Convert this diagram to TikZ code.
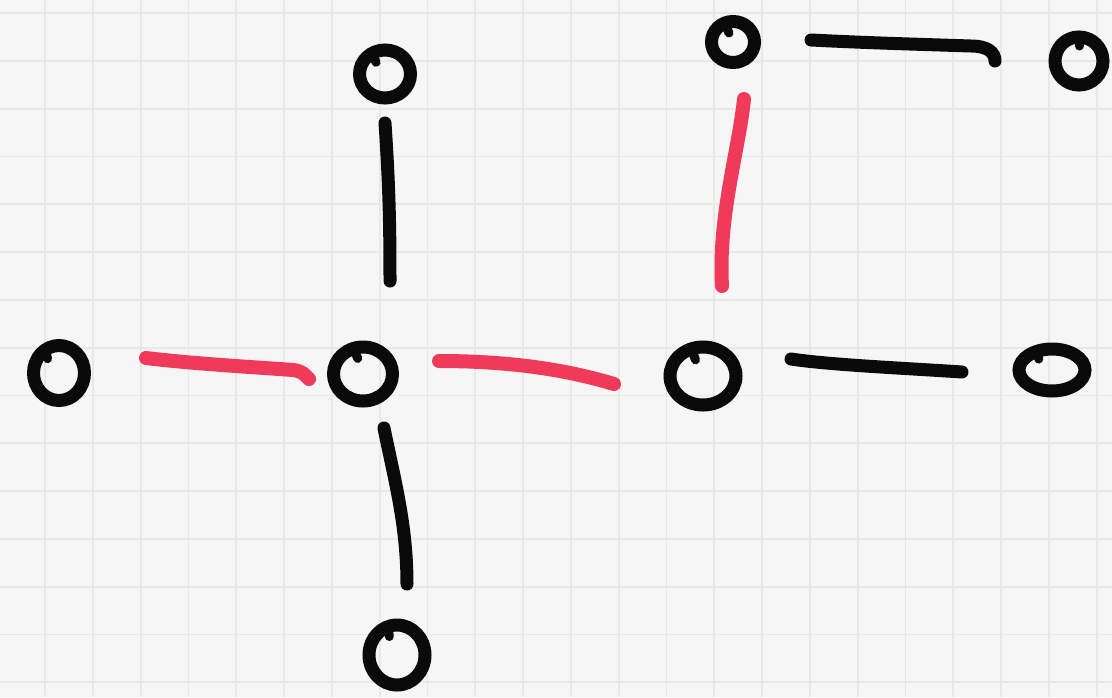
\documentclass[tikz,border=0pt]{standalone}
\usetikzlibrary{shapes.geometric}
\definecolor{paper}{RGB}{246,246,246}
\definecolor{gridline}{RGB}{232,232,232}
\definecolor{ink}{RGB}{10,10,10}
\definecolor{marker}{RGB}{239,58,90}
\tikzset{
  vtx/.style={draw=ink, line width=13pt, ellipse, inner sep=0pt, outer sep=0pt},
  tick/.style={draw=ink, line width=9pt, line cap=round},
  blk/.style={draw=ink, line width=13pt, line cap=round},
  hot/.style={draw=marker, line width=14pt, line cap=round},
  gridrule/.style={draw=gridline, line width=1.8pt}
}
\begin{document}
\begin{tikzpicture}[x=1pt, y=-1pt]
  % paper and grid
  \fill[paper] (0,0) rectangle (1112,697);
  \useasboundingbox (0,0) rectangle (1112,697);
  \foreach \k in {0,...,22} \draw[gridrule] ({45+47.8*\k},0) -- ({45+47.8*\k},697);
  \foreach \k in {0,...,14} \draw[gridrule] (0,{13+47.8*\k}) -- (1112,{13+47.8*\k});

  % vertices
  \node[vtx, minimum width=51pt, minimum height=48pt] (A) at (385,74) {};
  \node[vtx, minimum width=51pt, minimum height=55pt] (B) at (59,373) {};
  \node[vtx, minimum width=59pt, minimum height=54pt] (C) at (363,374) {};
  \node[vtx, minimum width=56pt, minimum height=60pt] (D) at (397,655) {};
  \node[vtx, minimum width=43pt, minimum height=41pt] (E) at (733,42) {};
  \node[vtx, minimum width=48pt, minimum height=48pt] (F) at (1079,61) {};
  \node[vtx, minimum width=66pt, minimum height=58pt] (G) at (703,376) {};
  \node[vtx, minimum width=66pt, minimum height=42pt] (H) at (1052,370) {};

  % pen-start hooks on the circles
  \draw[tick] (A.122) -- ++(4,9);
  \draw[tick] (B.120) -- ++(2,9);
  \draw[tick] (C.110) -- ++(4,10);
  \draw[tick] (D.107) -- ++(1,10);
  \draw[tick] (E.113) -- ++(4,10);
  \draw[tick] (F.90) -- ++(0,9);
  \draw[tick] (G.113) -- ++(4,11);
  \draw[tick] (H.127) -- ++(1,8);

  % black edges
  \draw[blk] ([shift={(0,49)}]A.center) .. controls +(4,60) and +(0,-60) .. ([shift={(27,-93)}]C.center);
  \draw[blk] ([shift={(21,54)}]C.center) .. controls +(10,50) and +(0,-60) .. ([shift={(10,-71)}]D.center);
  \draw[blk] ([shift={(78,-2)}]E.center) .. controls +(60,3) and +(-60,-2) .. ([shift={(-108,-15)}]F.center)
             .. controls +(16,0) and +(0,-9) .. ([shift={(-84,0)}]F.center);
  \draw[blk] ([shift={(88,-17)}]G.center) .. controls +(40,6) and +(-60,-4) .. ([shift={(-90,2)}]H.center);

  % red edges
  \draw[hot] ([shift={(87,-15)}]B.center) .. controls +(50,6) and +(-40,-3) .. ([shift={(-70,-4)}]C.center)
             .. controls +(9,1) and +(-5,-5) .. ([shift={(-54,5)}]C.center);
  \draw[hot] ([shift={(76,-13)}]C.center) .. controls +(80,0) and +(-40,-12) .. ([shift={(-89,8)}]G.center);
  \draw[hot] ([shift={(11,57)}]E.center) .. controls +(-5,50) and +(-4,-70) .. ([shift={(19,-90)}]G.center);
\end{tikzpicture}
\end{document}
